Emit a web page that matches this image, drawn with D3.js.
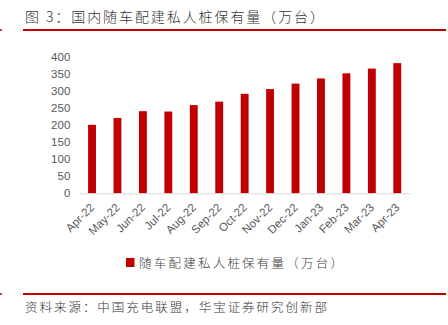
<!DOCTYPE html>
<html>
<head>
<meta charset="utf-8">
<script src="https://cdn.jsdelivr.net/npm/d3@7/dist/d3.min.js"></script>
<style>
  html, body { margin: 0; padding: 0; background: #fff; }
  svg { display: block; }
</style>
</head>
<body>
<svg id="chart" width="448" height="325"></svg>
<script>
// 随车配建私人桩保有量（万台）, monthly
const months = ["Apr-22","May-22","Jun-22","Jul-22","Aug-22","Sep-22","Oct-22",
                "Nov-22","Dec-22","Jan-23","Feb-23","Mar-23","Apr-23"];
const privatePiles = [201, 221, 241, 240, 259, 269, 292, 306, 322, 337, 352, 366, 382];
const yTicks = [0, 50, 100, 150, 200, 250, 300, 350, 400];

const titleText = "图 3：国内随车配建私人桩保有量（万台）";
const legendText = "随车配建私人桩保有量（万台）";
const sourceText = "资料来源：中国充电联盟，华宝证券研究创新部";

const svg = d3.select("#chart");
const red = "#c00000";
const cjk = "'Noto Sans CJK SC', sans-serif";
const latin = "Arial, 'Liberation Sans', sans-serif";

// header
svg.append("text")
  .attr("x", 25).attr("y", 22)
  .attr("font-family", cjk).attr("font-size", 14).attr("font-weight", 300)
  .attr("textLength", 299).attr("lengthAdjust", "spacing")
  .attr("fill", "#333")
  .text(titleText);
svg.append("line")
  .attr("x1", 23).attr("x2", 446).attr("y1", 30).attr("y2", 30)
  .attr("stroke", red).attr("stroke-width", 2);
svg.append("line")
  .attr("x1", 0).attr("x2", 2).attr("y1", 30).attr("y2", 30)
  .attr("stroke", red).attr("stroke-width", 1.5);

// plot area
const plot = { left: 79.3, right: 410, top: 57, bottom: 193.3 };

const x = d3.scaleBand()
  .domain(months)
  .range([plot.left, plot.right])
  .paddingInner(0.69)
  .paddingOuter(0.345);

const y = d3.scaleLinear()
  .domain([0, 400])
  .range([plot.bottom, plot.top]);

// y axis labels only
const yAxis = d3.axisLeft(y).tickValues(yTicks).tickSize(0).tickPadding(9);
const gy = svg.append("g")
  .attr("transform", `translate(${plot.left},0)`)
  .call(yAxis);
gy.select(".domain").remove();
gy.selectAll("text")
  .attr("font-family", latin).attr("font-size", 11.5)
  .attr("fill", "#595959");

// bars
svg.append("g").selectAll("rect")
  .data(privatePiles)
  .join("rect")
  .attr("x", (d, i) => x(months[i]))
  .attr("width", x.bandwidth())
  .attr("y", d => y(d))
  .attr("height", d => y(0) - y(d))
  .attr("fill", red);

// x axis
const xAxis = d3.axisBottom(x).tickSize(0).tickPadding(0);
const gx = svg.append("g")
  .attr("transform", `translate(0,${plot.bottom})`)
  .call(xAxis);
gx.select(".domain")
  .attr("stroke", "#d9d9d9").attr("stroke-width", 1);
gx.selectAll("text")
  .attr("font-family", latin).attr("font-size", 11.5)
  .attr("fill", "#595959")
  .attr("text-anchor", "end")
  .attr("dy", 0)
  .attr("transform", "translate(3,15) rotate(-45)");

// legend
const legend = svg.append("g").attr("transform", "translate(126,258)");
legend.append("rect")
  .attr("width", 8.5).attr("height", 9).attr("fill", red);
legend.append("text")
  .attr("x", 13).attr("y", 9.5)
  .attr("font-family", cjk).attr("font-size", 12.5).attr("font-weight", 300)
  .attr("textLength", 204).attr("lengthAdjust", "spacing")
  .attr("fill", "#404040")
  .text(legendText);

// footer
svg.append("line")
  .attr("x1", 23).attr("x2", 446).attr("y1", 294).attr("y2", 294)
  .attr("stroke", red).attr("stroke-width", 2);
svg.append("line")
  .attr("x1", 0).attr("x2", 2).attr("y1", 294).attr("y2", 294)
  .attr("stroke", red).attr("stroke-width", 1.5);
svg.append("text")
  .attr("x", 25).attr("y", 312)
  .attr("font-family", cjk).attr("font-size", 12.5).attr("font-weight", 300)
  .attr("textLength", 302).attr("lengthAdjust", "spacing")
  .attr("fill", "#333")
  .text(sourceText);
</script>
</body>
</html>
